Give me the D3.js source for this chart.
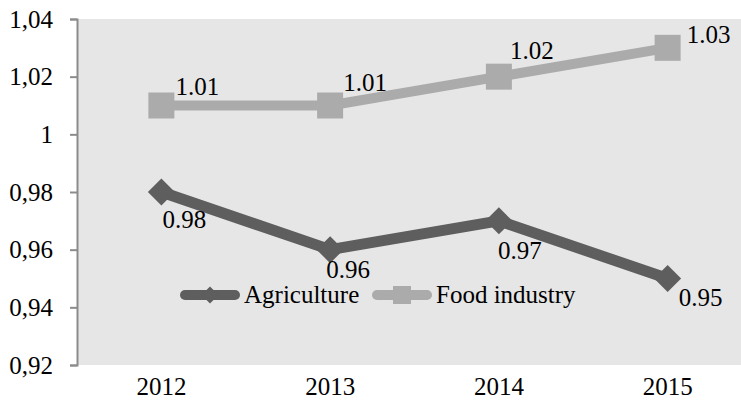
<!DOCTYPE html>
<html>
<head>
<meta charset="utf-8">
<script src="https://cdn.jsdelivr.net/npm/d3@7"></script>
<style>
  html, body { margin: 0; padding: 0; background: #fff; }
  svg { display: block; }
  svg text { font-family: "Liberation Serif", "Times New Roman", serif; }
</style>
</head>
<body>
<svg id="chart" width="741" height="407"></svg>
<script>
// Chart data
const years = ["2012", "2013", "2014", "2015"];
const agriculture = [0.98, 0.96, 0.97, 0.95];
const foodIndustry = [1.01, 1.01, 1.02, 1.03];
const yTicks = [0.92, 0.94, 0.96, 0.98, 1.00, 1.02, 1.04];
const seriesNames = ["Agriculture", "Food industry"];

// Label placement (text start / baseline relative to each point)
const agriLabelOffsets = [[1, 36], [-4, 28], [-1, 38], [11, 27]];
const foodLabelOffsets = [[14, -11], [13, -15], [11, -18], [19, -5]];

const colors = { agri: "#5e5e5e", food: "#ababab", bg: "#e6e6e6", axis: "#8c8c8c" };
const serif = "'Liberation Serif', 'Times New Roman', serif";

const svg = d3.select("#chart");
const plot = { left: 77, right: 752, top: 19, bottom: 365 };

const x = d3.scaleBand().domain(years).range([plot.left, plot.right]);
const xc = d => x(d) + x.bandwidth() / 2;
const y = d3.scaleLinear().domain([0.92, 1.04]).range([plot.bottom, plot.top]);

// diamond symbol area for a given point-to-point width
const diamondArea = w => Math.pow(w / 2 / 0.62625, 2);

// Plot background
svg.append("rect")
  .attr("x", plot.left).attr("y", plot.top)
  .attr("width", plot.right - plot.left).attr("height", plot.bottom - plot.top)
  .attr("fill", colors.bg);

// Y axis
const yAxis = svg.append("g")
  .attr("transform", `translate(${plot.left},0)`)
  .call(d3.axisLeft(y).tickValues(yTicks).tickSize(7).tickPadding(17)
    .tickFormat(v => (Math.abs(v - 1) < 1e-9 ? "1" : d3.format(".2f")(v).replace(".", ","))));
yAxis.attr("font-family", serif).attr("font-size", 25);
yAxis.select(".domain").attr("stroke", colors.axis).attr("stroke-width", 2);
yAxis.selectAll(".tick line").attr("stroke", colors.axis).attr("stroke-width", 2);
yAxis.selectAll(".tick text").attr("fill", "#000");

// X axis labels
const xAxis = svg.append("g")
  .attr("transform", `translate(0,${plot.bottom})`)
  .call(d3.axisBottom(x).tickSize(0).tickPadding(12));
xAxis.attr("font-family", serif).attr("font-size", 25);
xAxis.select(".domain").remove();
xAxis.selectAll(".tick text").attr("fill", "#000");

const line = d3.line().x((d, i) => xc(years[i])).y(d => y(d));

function drawSeries(values, color, marker, offsets) {
  svg.append("path")
    .datum(values)
    .attr("d", line)
    .attr("fill", "none")
    .attr("stroke", color)
    .attr("stroke-width", marker === "square" ? 10 : 11)
    .attr("stroke-linejoin", "round");

  const sym = marker === "square"
    ? d3.symbol().type(d3.symbolSquare).size(26 * 26)
    : d3.symbol().type(d3.symbolDiamond2).size(diamondArea(27));
  svg.append("g").selectAll("path")
    .data(values)
    .join("path")
    .attr("d", sym)
    .attr("transform", (d, i) => `translate(${xc(years[i])},${y(d)})`)
    .attr("fill", color);

  svg.append("g").selectAll("text")
    .data(values)
    .join("text")
    .attr("x", (d, i) => xc(years[i]) + offsets[i][0])
    .attr("y", (d, i) => y(d) + offsets[i][1])
    .attr("font-size", 25)
    .attr("fill", "#000")
    .text(d => d.toFixed(2));
}

drawSeries(foodIndustry, colors.food, "square", foodLabelOffsets);
drawSeries(agriculture, colors.agri, "diamond", agriLabelOffsets);

// Legend
const legend = svg.append("g");
const legendItems = [
  { name: seriesNames[0], color: colors.agri, marker: "diamond", x0: 185 },
  { name: seriesNames[1], color: colors.food, marker: "square", x0: 377 }
];
const ly = 295;
legendItems.forEach(it => {
  legend.append("line")
    .attr("x1", it.x0).attr("x2", it.x0 + 50)
    .attr("y1", ly).attr("y2", ly)
    .attr("stroke", it.color).attr("stroke-width", 10).attr("stroke-linecap", "round");
  const s = it.marker === "square"
    ? d3.symbol().type(d3.symbolSquare).size(18 * 18)
    : d3.symbol().type(d3.symbolDiamond2).size(diamondArea(17));
  legend.append("path")
    .attr("d", s)
    .attr("transform", `translate(${it.x0 + 25},${ly})`)
    .attr("fill", it.color);
  legend.append("text")
    .attr("x", it.x0 + 59).attr("y", ly + 8)
    .attr("font-size", 25).attr("fill", "#000")
    .text(it.name);
});
</script>
</body>
</html>
